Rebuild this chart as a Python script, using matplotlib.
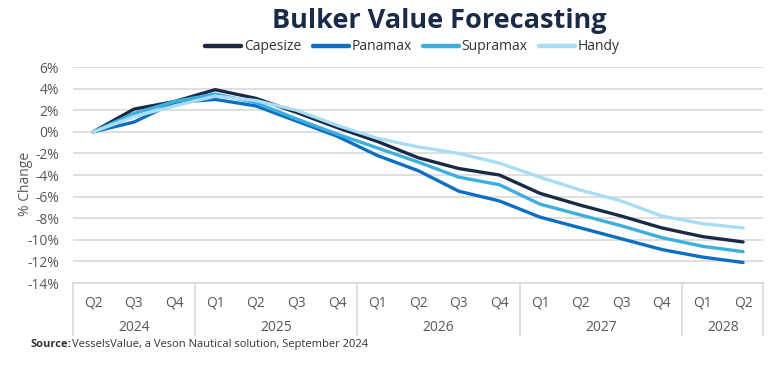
import numpy as np
import matplotlib
matplotlib.use("Agg")
import matplotlib.pyplot as plt
import matplotlib.transforms as mtransforms

quarters = ['Q2', 'Q3', 'Q4',
            'Q1', 'Q2', 'Q3', 'Q4',
            'Q1', 'Q2', 'Q3', 'Q4',
            'Q1', 'Q2', 'Q3', 'Q4',
            'Q1', 'Q2']
years = ['2024', '2025', '2026', '2027', '2028']
year_start = [0, 3, 7, 11, 15]
year_len = [3, 4, 4, 4, 2]

capesize = [0, 2.1, 2.8, 3.9, 3.1, 1.8, 0.4, -0.9, -2.4, -3.4, -4.0, -5.7, -6.8, -7.8, -8.9, -9.7, -10.2]
panamax = [0, 0.9, 2.7, 3.0, 2.4, 1.0, -0.4, -2.2, -3.6, -5.5, -6.4, -7.9, -8.9, -9.9, -10.9, -11.6, -12.1]
supramax = [0, 1.7, 2.8, 3.5, 2.7, 1.2, -0.2, -1.5, -2.8, -4.2, -4.9, -6.7, -7.7, -8.7, -9.8, -10.6, -11.1]
handy = [0, 1.4, 2.4, 3.3, 2.9, 2.0, 0.6, -0.6, -1.4, -2.0, -2.9, -4.2, -5.4, -6.4, -7.8, -8.5, -8.9]

plt.rcParams['font.family'] = ['Open Sans', 'DejaVu Sans']
grey = '#595959'

fig = plt.figure(figsize=(7.74, 3.76), dpi=100)
ax = fig.add_axes([0.0943, 0.2473, 0.8920, 0.5745])

x = np.arange(len(quarters))
ax.plot(x, capesize, color='#1b2a44', lw=2.4, label='Capesize', solid_capstyle='round')
ax.plot(x, panamax, color='#0e6fc2', lw=2.4, label='Panamax', solid_capstyle='round')
ax.plot(x, supramax, color='#3daee0', lw=2.4, label='Supramax', solid_capstyle='round')
ax.plot(x, handy, color='#a8ddf5', lw=2.4, label='Handy', solid_capstyle='round')

ax.set_xlim(-0.5, len(quarters) - 0.5)
ax.set_ylim(-14, 6)
ax.set_yticks(np.arange(-14, 7, 2))
ax.set_yticklabels([f'{v}%' for v in range(-14, 7, 2)])
ax.grid(axis='y', color='#d9d9d9', lw=1.2)
ax.set_axisbelow(True)
for s in ['top', 'right', 'left']:
    ax.spines[s].set_visible(False)
ax.spines['bottom'].set_color('#d9d9d9')
ax.spines['bottom'].set_linewidth(1.2)

ax.set_xticks(x)
ax.set_xticklabels(quarters)
ax.tick_params(axis='x', length=0, pad=9, labelsize=10, colors=grey)
ax.tick_params(axis='y', length=0, pad=10, labelsize=10, colors=grey)
ax.set_ylabel('% Change', fontsize=10, color=grey)
ax.yaxis.set_label_coords(-0.058, 0.46)

trans = mtransforms.blended_transform_factory(ax.transData, ax.transAxes)
for yr, st, n in zip(years, year_start, year_len):
    ax.text(st + (n - 1) / 2, -0.205, yr, transform=trans, ha='center', va='center',
            fontsize=10, color=grey)
bounds = [-0.5] + [st + n - 0.5 for st, n in zip(year_start, year_len)]
for b in bounds:
    ax.plot([b, b], [0, -0.24], transform=trans, color='#d9d9d9', lw=1.2, clip_on=False)

fig.text(0.568, 0.945, 'Bulker Value Forecasting', ha='center', va='center',
         fontsize=19.5, fontweight='bold', color='#1a2b48')
leg = fig.legend(loc='center', bbox_to_anchor=(0.533, 0.875), ncol=4, frameon=False,
                 fontsize=10, handlelength=2.6, handletextpad=0.2, columnspacing=0.8,
                 labelcolor='#333333')
for h in leg.get_lines():
    h.set_linewidth(3.2)

fig.text(0.04, 0.085, 'Source:', fontsize=8, fontweight='bold', color='#333333', va='center')
fig.text(0.093, 0.085, 'VesselsValue, a Veson Nautical solution, September 2024',
         fontsize=8, color='#333333', va='center')

fig.savefig('out.png', dpi=100)
